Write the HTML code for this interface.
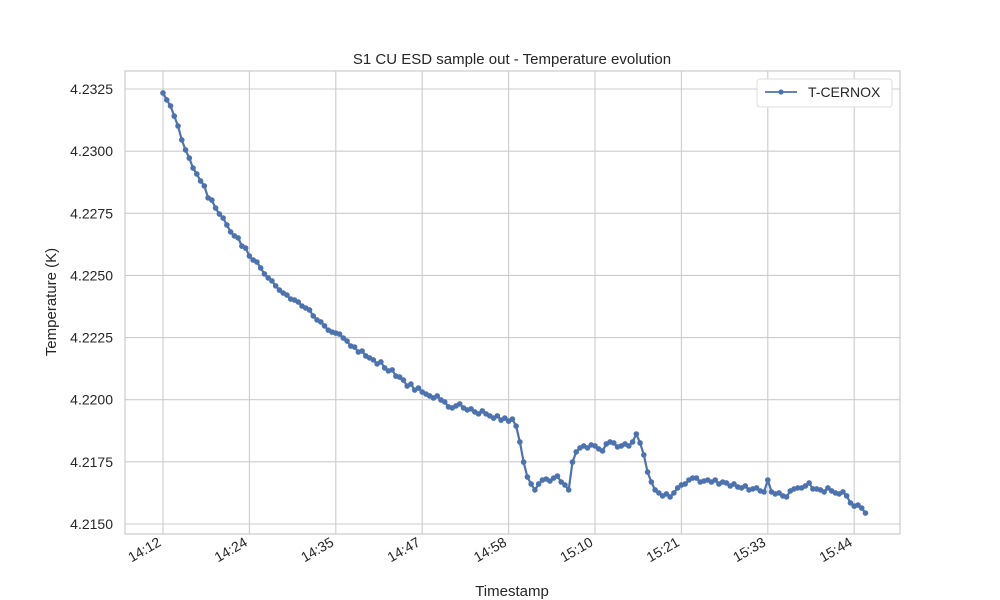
<!DOCTYPE html>
<html><head><meta charset="utf-8"><style>
body{margin:0;background:#fff}
svg{display:block;font-family:"Liberation Sans","DejaVu Sans",sans-serif}
</style></head><body>
<svg id="chart" width="1000" height="600" viewBox="0 0 1000 600">
<rect width="1000" height="600" fill="#fff"/>
<g id="grid"></g>
<rect x="125" y="71" width="775" height="463" fill="none" stroke="#cccccc" stroke-width="1.2"/>
<g id="ticks"></g>
<g id="series"></g>
<text x="512" y="64" text-anchor="middle" font-size="15" fill="#262626">S1 CU ESD sample out - Temperature evolution</text>
<text x="512" y="596" text-anchor="middle" font-size="15" fill="#262626">Timestamp</text>
<text transform="translate(56,302) rotate(-90)" text-anchor="middle" font-size="15" fill="#262626">Temperature (K)</text>
<g>
<rect x="757" y="79" width="135" height="28" rx="3" fill="#fff" stroke="#dddddd"/>
<line x1="765" y1="92" x2="797" y2="92" stroke="#4c72b0" stroke-width="1.8"/>
<circle cx="781" cy="92" r="2.6" fill="#4c72b0"/>
<text x="808" y="97" font-size="14" fill="#262626">T-CERNOX</text>
</g>
</svg>
<script>
const yTicks = [4.2150, 4.2175, 4.2200, 4.2225, 4.2250, 4.2275, 4.2300, 4.2325];
const yTickLabels = ["4.2150","4.2175","4.2200","4.2225","4.2250","4.2275","4.2300","4.2325"];
const xTicks = [0, 11.5, 23, 34.5, 46, 57.5, 69, 80.5, 92];
const xTickLabels = ["14:12","14:24","14:35","14:47","14:58","15:10","15:21","15:33","15:44"];
const sampleStartMin = 0;
const samplePeriodMin = 0.5;
const temps = [4.23234,4.23206,4.23182,4.23141,4.23101,4.23045,4.23005,4.22972,4.22932,4.22908,
4.22880,4.22860,4.22812,4.22803,4.22771,4.22747,4.22731,4.22703,4.22675,4.22659,
4.22651,4.22618,4.22610,4.22578,4.22562,4.22554,4.22530,4.22506,4.22490,4.22478,
4.22458,4.22441,4.22429,4.22421,4.22405,4.22401,4.22393,4.22377,4.22369,4.22361,
4.22337,4.22321,4.22313,4.22297,4.22280,4.22272,4.22268,4.22264,4.22248,4.22236,
4.22216,4.22212,4.22192,4.22196,4.22176,4.22168,4.22160,4.22144,4.22152,4.22128,
4.22116,4.22120,4.22095,4.22091,4.22079,4.22055,4.22063,4.22039,4.22047,4.22031,
4.22023,4.22015,4.22007,4.22015,4.21999,4.21991,4.21971,4.21967,4.21975,4.21983,
4.21967,4.21959,4.21963,4.21951,4.21943,4.21955,4.21943,4.21935,4.21926,4.21935,
4.21918,4.21926,4.21914,4.21922,4.21894,4.21830,4.21749,4.21689,4.21661,4.21637,
4.21661,4.21677,4.21681,4.21673,4.21685,4.21693,4.21669,4.21657,4.21637,4.21749,
4.21790,4.21806,4.21814,4.21806,4.21818,4.21814,4.21802,4.21794,4.21822,4.21830,
4.21826,4.21810,4.21814,4.21822,4.21814,4.21830,4.21862,4.21826,4.21778,4.21709,
4.21669,4.21637,4.21625,4.21613,4.21621,4.21609,4.21625,4.21645,4.21657,4.21661,
4.21677,4.21685,4.21685,4.21669,4.21673,4.21677,4.21669,4.21677,4.21661,4.21669,
4.21665,4.21653,4.21661,4.21649,4.21645,4.21653,4.21637,4.21641,4.21645,4.21633,
4.21629,4.21677,4.21629,4.21621,4.21625,4.21613,4.21609,4.21633,4.21641,4.21645,
4.21645,4.21653,4.21665,4.21641,4.21641,4.21637,4.21629,4.21645,4.21633,4.21625,
4.21621,4.21629,4.21613,4.21585,4.21572,4.21576,4.21564,4.21544];

const NS = "http://www.w3.org/2000/svg";
const X0 = 163, PXMIN = 86.4 / 11.5;
const Y0 = 89, YV0 = 4.2325, PXK = (524 - 89) / 0.0175;
function xs(m){ return X0 + m * PXMIN; }
function ys(v){ return Y0 + (YV0 - v) * PXK; }
function mk(tag, attrs){ const e = document.createElementNS(NS, tag); for (const k in attrs) e.setAttribute(k, attrs[k]); return e; }

const grid = document.getElementById('grid');
const ticks = document.getElementById('ticks');
yTicks.forEach((v, i) => {
  const y = ys(v);
  const gl = mk('line', {x1:125, x2:900, y1:y, y2:y, stroke:'#cccccc', 'stroke-width':1.1});
  
  
  grid.appendChild(gl);
  const t = mk('text', {x:113, y:y + 5, 'text-anchor':'end', 'font-size':14, fill:'#262626'});
  t.textContent = yTickLabels[i];
  
  
  ticks.appendChild(t);
});
xTicks.forEach((m, i) => {
  const x = xs(m);
  const gl = mk('line', {x1:x, x2:x, y1:71, y2:534, stroke:'#cccccc', 'stroke-width':1.1});
  
  
  grid.appendChild(gl);
  const t = mk('text', {transform:`translate(${x - 1},${545}) rotate(-30)`, 'text-anchor':'end', 'font-size':14, fill:'#262626'});
  t.textContent = xTickLabels[i];
  
  
  ticks.appendChild(t);
});

const series = document.getElementById('series');
const pts = temps.map((v, k) => [xs(sampleStartMin + k * samplePeriodMin), ys(v)]);
const pl = mk('polyline', {points: pts.map(p => p[0].toFixed(2) + ',' + p[1].toFixed(2)).join(' '), fill:'none', stroke:'#4c72b0', 'stroke-width':2.2, 'stroke-linejoin':'round'});


series.appendChild(pl);
pts.forEach(p => {
  const c = mk('circle', {cx:p[0], cy:p[1], r:2.8, fill:'#4c72b0'});
  
  
  series.appendChild(c);
});
</script>
</body></html>
